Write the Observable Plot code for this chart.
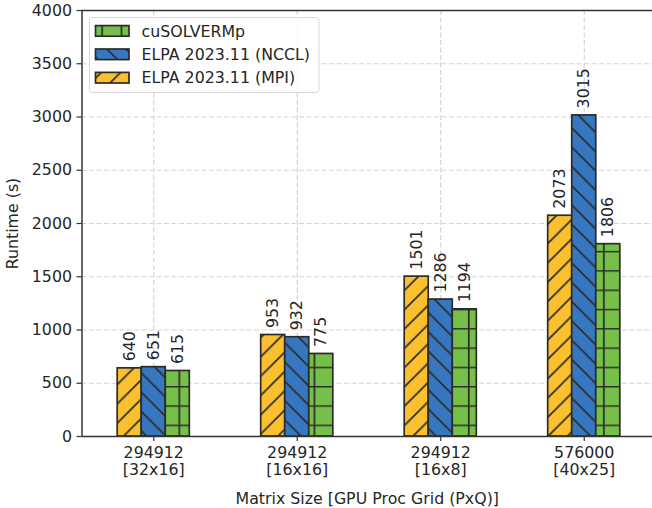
<!DOCTYPE html>
<html>
<head>
<meta charset="utf-8">
<script src="https://cdn.jsdelivr.net/npm/d3@7"></script>
<script src="https://cdn.jsdelivr.net/npm/@observablehq/plot@0.6"></script>
<style>
  html, body { margin: 0; padding: 0; background: #fff; overflow: hidden; }
  #chart { width: 652px; height: 508px; position: relative; }
</style>
</head>
<body>
<svg width="0" height="0" style="position:absolute">
  <defs>
    <pattern id="hatch-mpi" patternUnits="userSpaceOnUse" width="19.3" height="19.3">
      <rect width="19.3" height="19.3" fill="#fbc02d"/>
      <path d="M0,19.3 L19.3,0 M-4.8,4.8 L4.8,-4.8 M14.5,24.1 L24.1,14.5" stroke="#2b2b2b" stroke-width="1.7"/>
    </pattern>
    <pattern id="hatch-nccl" patternUnits="userSpaceOnUse" width="19.3" height="19.3">
      <rect width="19.3" height="19.3" fill="#3777c0"/>
      <path d="M0,0 L19.3,19.3 M-4.8,14.5 L4.8,24.1 M14.5,-4.8 L24.1,4.8" stroke="#2b2b2b" stroke-width="1.7"/>
    </pattern>
    <pattern id="hatch-cusolver" patternUnits="userSpaceOnUse" width="19.3" height="19.3">
      <rect width="19.3" height="19.3" fill="#76bf48"/>
      <path d="M0,0.7 L19.3,0.7 M5.6,0 L5.6,19.3" stroke="#2b2b2b" stroke-width="1.7"/>
    </pattern>
  </defs>
</svg>
<div id="chart"></div>
<script>
// ---- data ----
const matrixSizes = ["294912", "294912", "294912", "576000"];
const procGrids = ["[32x16]", "[16x16]", "[16x8]", "[40x25]"];
const seriesNames = ["ELPA 2023.11 (MPI)", "ELPA 2023.11 (NCCL)", "cuSOLVERMp"];
const elpaMPI = [640, 953, 1501, 2073];
const elpaNCCL = [651, 932, 1286, 3015];
const cuSOLVERMp = [615, 775, 1194, 1806];
const yTicks = [0, 500, 1000, 1500, 2000, 2500, 3000, 3500, 4000];
const legendOrder = ["cuSOLVERMp", "ELPA 2023.11 (NCCL)", "ELPA 2023.11 (MPI)"];

// ---- styles ----
const fills = {
  "ELPA 2023.11 (MPI)": "url(#hatch-mpi)",
  "ELPA 2023.11 (NCCL)": "url(#hatch-nccl)",
  "cuSOLVERMp": "url(#hatch-cusolver)"
};
const edge = "#2b2b2b";
const textColor = "#262626";
const fs = 15.8;
const barW = 0.1675;

const seriesValues = [elpaMPI, elpaNCCL, cuSOLVERMp];
const groupIdx = matrixSizes.map((_, i) => i);
const groupLabels = matrixSizes.map((s, i) => s + "\n" + procGrids[i]);

const rows = groupIdx.flatMap(i => seriesNames.map((name, k) => ({
  i, k, series: name, value: seriesValues[k][i]
})));
const center = d => d.i + (d.k - 1) * barW;

const chart = Plot.plot({
  width: 652,
  height: 508,
  marginLeft: 81.5,
  marginRight: 0,
  marginTop: 10,
  marginBottom: 72,
  style: { fontFamily: "DejaVu Sans", fontSize: fs + "px", color: textColor, background: "#fff" },
  x: { domain: [-0.5, 3.5], range: [81.5, 655.5] },
  y: { domain: [0, 4000], range: [436, 10] },
  marks: [
    Plot.gridY(yTicks, { stroke: "#d4d4d4", strokeOpacity: 1, strokeWidth: 1.2, strokeDasharray: "5,2.5" }),
    Plot.gridX(groupIdx, { stroke: "#d4d4d4", strokeOpacity: 1, strokeWidth: 1.2, strokeDasharray: "5,2.5" }),
    Plot.rectY(rows, {
      x1: d => center(d) - barW / 2,
      x2: d => center(d) + barW / 2,
      y1: 0,
      y2: "value",
      fill: d => fills[d.series],
      stroke: edge,
      strokeWidth: 1.7
    }),
    Plot.text(rows, {
      x: center,
      y: "value",
      text: d => String(d.value),
      rotate: -90,
      textAnchor: "start",
      lineAnchor: "middle",
      dy: -7,
      fontSize: fs,
      fill: textColor
    }),
    Plot.ruleY([0, 4000], { stroke: "#333", strokeWidth: 1.5 }),
    Plot.ruleX([-0.5], { stroke: "#333", strokeWidth: 1.5 }),
    Plot.axisY(yTicks, {
      tickSize: 5, tickPadding: 5, stroke: "#333", strokeWidth: 1.2, fontSize: fs,
      tickFormat: d => String(d),
      label: "Runtime (s)", labelAnchor: "center", labelArrow: "none", labelOffset: 75
    }),
    Plot.axisX(groupIdx, {
      tickSize: 5, tickPadding: 4.5, stroke: "#333", strokeWidth: 1.2, fontSize: fs,
      tickFormat: i => groupLabels[i], lineHeight: 1.08,
      label: "Matrix Size [GPU Proc Grid (PxQ)]", labelAnchor: "center", labelArrow: "none", labelOffset: 67
    })
  ]
});
document.getElementById("chart").appendChild(chart);

// ---- legend (inside the axes, upper left) ----
const svg = d3.select(chart);
const lg = svg.append("g").attr("font-family", "DejaVu Sans").attr("font-size", fs);
lg.append("rect")
  .attr("x", 89.5).attr("y", 17.5).attr("width", 229.5).attr("height", 75)
  .attr("rx", 3).attr("fill", "#fff").attr("fill-opacity", 0.85)
  .attr("stroke", "#d6d6d6").attr("stroke-width", 1);
const rowY = [30.9, 54.3, 77.7];
legendOrder.forEach((name, j) => {
  lg.append("rect")
    .attr("x", 95.5).attr("y", rowY[j] - 5.3).attr("width", 33.5).attr("height", 10.6)
    .attr("fill", fills[name]).attr("stroke", edge).attr("stroke-width", 1.7);
  lg.append("text")
    .attr("x", 141.5).attr("y", rowY[j] + 5.6)
    .attr("text-anchor", "start")
    .attr("fill", textColor).text(name);
});
</script>
</body>
</html>
